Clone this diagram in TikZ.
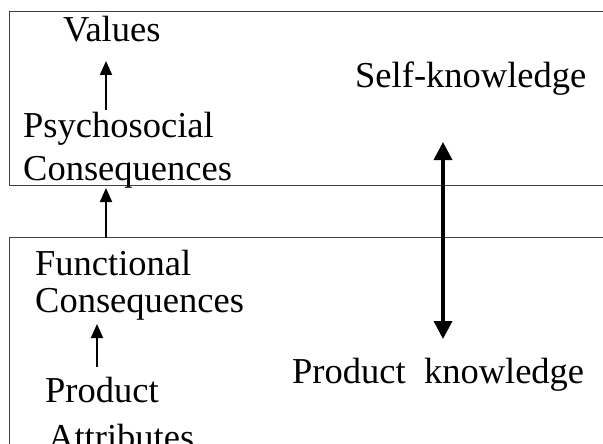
\documentclass[tikz,border=0pt]{standalone}
\usepackage{fontspec}
\setmainfont{Liberation Serif}
\usetikzlibrary{arrows.meta}
\begin{document}
\begin{tikzpicture}[x=1pt,y=-1pt,
  lbl/.style={anchor=base west,inner sep=0pt,font=\fontsize{36.5}{42}\selectfont},
  frame/.style={draw=black!75,line width=1pt},
  thin arrow/.style={-{Triangle[width=12pt,length=14pt]},line width=2pt},
  thick arrow/.style={{Triangle[width=18pt,length=18pt]}-{Triangle[width=18pt,length=18pt]},line width=3.5pt}]
\path[use as bounding box,clip] (0,0) rectangle (603,444);
\fill[white] (0,0) rectangle (603,444);
% frames
\draw[frame] (620,12) -- (9.5,12) -- (9.5,185) -- (620,185);
\draw[frame] (620,237) -- (9.5,237) -- (9.5,460);
% labels
\node[lbl] (val) at (63,42) {Values};
\node[lbl] (psy) at (23,138) {Psychosocial};
\node[lbl] (psc) at (23,180) {Consequences};
\node[lbl] (fun) at (35,275) {Functional};
\node[lbl] (fuc) at (35,312) {Consequences};
\node[lbl] (pro) at (45,402) {Product};
\node[lbl] (att) at (48,449) {Attributes};
\node[lbl] (self) at (355,88) {Self-knowledge};
\node[lbl] (pk) at (292,383) {Product\ \ knowledge};
% arrow end points
\coordinate (a1s) at (106,110); \coordinate (a1e) at (106,61);
\coordinate (a2s) at (106,238); \coordinate (a2e) at (106,188);
\coordinate (a3s) at (97,367);  \coordinate (a3e) at (97,324);
\coordinate (dtop) at (443,142); \coordinate (dbot) at (443,339);
\draw[thin arrow] (a1s) -- (a1e);
\draw[thin arrow] (a2s) -- (a2e);
\draw[thin arrow] (a3s) -- (a3e);
\draw[thick arrow] (dtop) -- (dbot);
\end{tikzpicture}
\end{document}
